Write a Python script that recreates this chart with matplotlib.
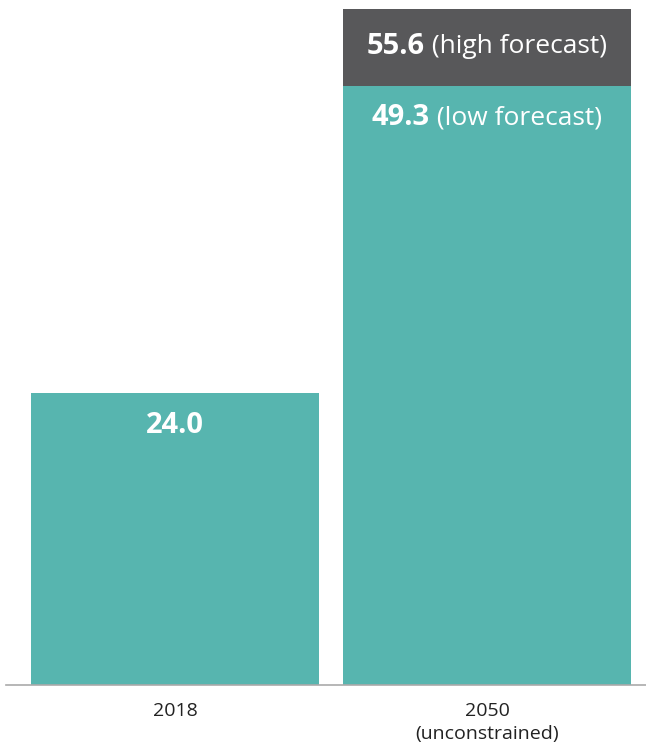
import matplotlib.pyplot as plt
import numpy as np

# data
categories = ['2018', '2050\n(unconstrained)']
low_values = [24.0, 49.3]
high_values = [None, 55.6]
value_notes = ['', '(low forecast)']
high_note = '(high forecast)'

teal = '#57b5af'
grey = '#58585a'

plt.rcParams['font.family'] = ['Open Sans', 'DejaVu Sans']

fig = plt.figure(figsize=(6.46, 7.45), dpi=100)
ax = fig.add_axes([6 / 646, 60 / 745, 640 / 646, 685 / 745])

x = np.arange(len(categories))
width = 0.923

ax.bar(x, low_values, width, color=teal, zorder=2)
extra = [(h - l) if h is not None else 0 for h, l in zip(high_values, low_values)]
ax.bar(x, extra, width, bottom=low_values, color=grey, zorder=2)

ax.set_xlim(-0.5417, 1.5096)
ax.set_ylim(0, 56.38)

for s in ['top', 'right', 'left']:
    ax.spines[s].set_visible(False)
ax.spines['bottom'].set_color('#aaaaaa')
ax.spines['bottom'].set_linewidth(1.2)
ax.set_yticks([])
ax.set_xticks(x)
ax.set_xticklabels(categories, fontsize=14, color='#222222', linespacing=1.35)
ax.tick_params(axis='x', length=0, pad=12)

fig.canvas.draw()
renderer = fig.canvas.get_renderer()


# bold number + regular note, centred together on the bar
def label(xc, y, num, note, dy):
    t1 = ax.annotate(num, (xc, y), xytext=(0, dy), textcoords='offset points',
                     ha='left', va='center', color='white', fontsize=21,
                     fontweight='bold')
    parts = [t1]
    if note:
        t2 = ax.annotate(' ' + note, (xc, y), xytext=(0, dy), textcoords='offset points',
                         ha='left', va='center', color='white', fontsize=19)
        parts.append(t2)
    widths = [p.get_window_extent(renderer).width for p in parts]
    total = sum(widths)
    off = -total / 2
    for p, w in zip(parts, widths):
        p.set_position((off * 72 / fig.dpi, dy))
        off += w


for i in range(len(categories)):
    label(x[i], low_values[i], '%.1f' % low_values[i], value_notes[i], -23)
    if high_values[i] is not None:
        mid = (low_values[i] + high_values[i]) / 2
        label(x[i], mid, '%.1f' % high_values[i], high_note, 1)

fig.savefig('out.png', dpi=100)
